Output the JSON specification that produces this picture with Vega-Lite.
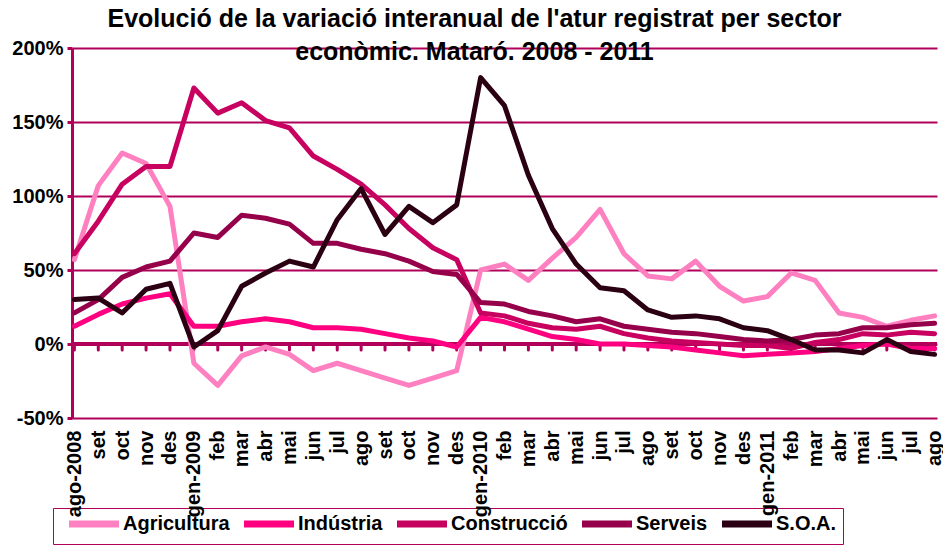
{
  "$schema": "https://vega.github.io/schema/vega-lite/v6.json",
  "width": 865,
  "height": 370,
  "autosize": {"type": "none"},
  "padding": {"left": 72, "top": 48, "right": 6, "bottom": 130},
  "background": "white",
  "config": {"view": {"stroke": null}, "font": "Liberation Sans"},
  "title": {
    "text": ["Evolució de la variació interanual de l'atur registrat per sector", "econòmic. Mataró. 2008 - 2011"],
    "font": "Liberation Sans",
    "fontSize": 25,
    "fontWeight": "bold",
    "color": "black",
    "anchor": "middle",
    "frame": "group",
    "baseline": "top",
    "lineHeight": 33,
    "offset": 0,
    "dx": -30,
    "dy": 27
  },
  "data": {
    "values": [
      {"mes": "ago-2008", "Agricultura": 57, "Indústria": 12, "Construcció": 61, "Serveis": 21, "SOA": 30},
      {"mes": "set-2008", "Agricultura": 107, "Indústria": 20, "Construcció": 83, "Serveis": 30, "SOA": 31},
      {"mes": "oct-2008", "Agricultura": 129, "Indústria": 27, "Construcció": 108, "Serveis": 45, "SOA": 21},
      {"mes": "nov-2008", "Agricultura": 122, "Indústria": 31, "Construcció": 120, "Serveis": 52, "SOA": 37},
      {"mes": "des-2008", "Agricultura": 93, "Indústria": 34, "Construcció": 120, "Serveis": 56, "SOA": 41},
      {"mes": "gen-2009", "Agricultura": -13, "Indústria": 12, "Construcció": 173, "Serveis": 75, "SOA": -2},
      {"mes": "feb-2009", "Agricultura": -28, "Indústria": 12, "Construcció": 156, "Serveis": 72, "SOA": 9},
      {"mes": "mar-2009", "Agricultura": -8, "Indústria": 15, "Construcció": 163, "Serveis": 87, "SOA": 39},
      {"mes": "abr-2009", "Agricultura": -2, "Indústria": 17, "Construcció": 151, "Serveis": 85, "SOA": 48},
      {"mes": "mai-2009", "Agricultura": -7, "Indústria": 15, "Construcció": 146, "Serveis": 81, "SOA": 56},
      {"mes": "jun-2009", "Agricultura": -18, "Indústria": 11, "Construcció": 127, "Serveis": 68, "SOA": 52},
      {"mes": "jul-2009", "Agricultura": -13, "Indústria": 11, "Construcció": 118, "Serveis": 68, "SOA": 84},
      {"mes": "ago-2009", "Agricultura": -18, "Indústria": 10, "Construcció": 108, "Serveis": 64, "SOA": 105},
      {"mes": "set-2009", "Agricultura": -23, "Indústria": 7, "Construcció": 94, "Serveis": 61, "SOA": 74},
      {"mes": "oct-2009", "Agricultura": -28, "Indústria": 4, "Construcció": 78, "Serveis": 56, "SOA": 93},
      {"mes": "nov-2009", "Agricultura": -23, "Indústria": 2, "Construcció": 65, "Serveis": 49, "SOA": 82},
      {"mes": "des-2009", "Agricultura": -18, "Indústria": -2, "Construcció": 57, "Serveis": 47, "SOA": 94},
      {"mes": "gen-2010", "Agricultura": 50, "Indústria": 18, "Construcció": 21, "Serveis": 28, "SOA": 180},
      {"mes": "feb-2010", "Agricultura": 54, "Indústria": 15, "Construcció": 19, "Serveis": 27, "SOA": 161},
      {"mes": "mar-2010", "Agricultura": 43, "Indústria": 10, "Construcció": 14, "Serveis": 22, "SOA": 114},
      {"mes": "abr-2010", "Agricultura": 58, "Indústria": 5, "Construcció": 11, "Serveis": 19, "SOA": 78},
      {"mes": "mai-2010", "Agricultura": 72, "Indústria": 3, "Construcció": 10, "Serveis": 15, "SOA": 54},
      {"mes": "jun-2010", "Agricultura": 91, "Indústria": 0, "Construcció": 12, "Serveis": 17, "SOA": 38},
      {"mes": "jul-2010", "Agricultura": 61, "Indústria": 0, "Construcció": 7, "Serveis": 12, "SOA": 36},
      {"mes": "ago-2010", "Agricultura": 46, "Indústria": -1, "Construcció": 4, "Serveis": 10, "SOA": 23},
      {"mes": "set-2010", "Agricultura": 44, "Indústria": -2, "Construcció": 2, "Serveis": 8, "SOA": 18},
      {"mes": "oct-2010", "Agricultura": 56, "Indústria": -4, "Construcció": 1, "Serveis": 7, "SOA": 19},
      {"mes": "nov-2010", "Agricultura": 39, "Indústria": -6, "Construcció": 0, "Serveis": 5, "SOA": 17},
      {"mes": "des-2010", "Agricultura": 29, "Indústria": -8, "Construcció": -1, "Serveis": 3, "SOA": 11},
      {"mes": "gen-2011", "Agricultura": 32, "Indústria": -7, "Construcció": -1, "Serveis": 2, "SOA": 9},
      {"mes": "feb-2011", "Agricultura": 48, "Indústria": -6, "Construcció": -3, "Serveis": 3, "SOA": 3},
      {"mes": "mar-2011", "Agricultura": 43, "Indústria": -5, "Construcció": 1, "Serveis": 6, "SOA": -4},
      {"mes": "abr-2011", "Agricultura": 21, "Indústria": -3, "Construcció": 3, "Serveis": 7, "SOA": -4},
      {"mes": "mai-2011", "Agricultura": 18, "Indústria": -1, "Construcció": 7, "Serveis": 11, "SOA": -6},
      {"mes": "jun-2011", "Agricultura": 12, "Indústria": 0, "Construcció": 6, "Serveis": 11, "SOA": 3},
      {"mes": "jul-2011", "Agricultura": 16, "Indústria": -3, "Construcció": 8, "Serveis": 13, "SOA": -5},
      {"mes": "ago-2011", "Agricultura": 19, "Indústria": -3, "Construcció": 7, "Serveis": 14, "SOA": -7}
    ]
  },
  "layer": [
    {
      "mark": {"type": "rule", "color": "#B0005A", "strokeWidth": 3},
      "encoding": {
        "y": {
          "datum": 0,
          "type": "quantitative",
          "scale": {"domain": [-50, 200], "nice": false},
          "axis": {
            "title": null,
            "values": [-50, 0, 50, 100, 150, 200],
            "labelExpr": "datum.value + '%'",
            "labelFont": "Liberation Sans",
            "labelFontSize": 20,
            "labelFontWeight": "bold",
            "labelColor": "black",
            "labelPadding": 4,
            "domain": true,
            "domainColor": "#B0005A",
            "domainWidth": 3,
            "ticks": true,
            "tickColor": "#B0005A",
            "tickWidth": 3,
            "tickSize": 5,
            "grid": true,
            "gridColor": "#B0005A",
            "gridWidth": 2
          }
        }
      }
    },
    {
      "mark": {"type": "rule", "color": "#B0005A", "strokeWidth": 3, "strokeCap": "round"},
      "encoding": {
        "x": {
          "field": "mes",
          "type": "ordinal",
          "sort": null,
          "scale": {"type": "point", "padding": 0.1},
          "axis": {
            "title": null,
            "zindex": 2,
            "domain": false,
            "ticks": false,
            "grid": false,
            "labelAngle": 270,
            "labelAlign": "right",
            "labelBaseline": "middle",
            "labelPadding": 12,
            "labelOverlap": false,
            "labelBound": false,
            "labelFlush": false,
            "labelFont": "Liberation Sans",
            "labelFontSize": 20,
            "labelFontWeight": "bold",
            "labelColor": "black",
            "labelExpr": "(datum.value == 'ago-2008' || indexof(datum.value, 'gen') == 0) ? datum.value : split(datum.value, '-')[0]"
          }
        },
        "y": {"datum": 0, "type": "quantitative"},
        "y2": {"datum": -4}
      }
    },
    {
      "transform": [
        {"fold": ["Agricultura", "Indústria", "Construcció", "Serveis", "SOA"], "as": ["sector", "valor"]}
      ],
      "mark": {"type": "line", "strokeWidth": 5, "strokeJoin": "round", "strokeCap": "round"},
      "encoding": {
        "x": {"field": "mes", "type": "ordinal", "sort": null},
        "y": {"field": "valor", "type": "quantitative"},
        "color": {
          "field": "sector",
          "type": "nominal",
          "scale": {
            "domain": ["Agricultura", "Indústria", "Construcció", "Serveis", "SOA"],
            "range": ["#FF80C0", "#FF0080", "#C8005F", "#96004B", "#2A0012"]
          },
          "legend": {
            "title": null,
            "orient": "none",
            "legendX": -19,
            "legendY": 460,
            "direction": "horizontal",
            "symbolType": "M0,0L10,0",
            "symbolSize": 100,
            "symbolStrokeWidth": 7,
            "labelFont": "Liberation Sans",
            "labelFontSize": 20,
            "labelFontWeight": "bold",
            "labelColor": "black",
            "labelOffset": 44,
            "columnPadding": 0,
            "padding": 6,
            "strokeColor": "#B0005A",
            "fillColor": "white",
            "labelExpr": "datum.label == 'SOA' ? 'S.O.A.' : datum.label"
          }
        }
      }
    }
  ]
}
